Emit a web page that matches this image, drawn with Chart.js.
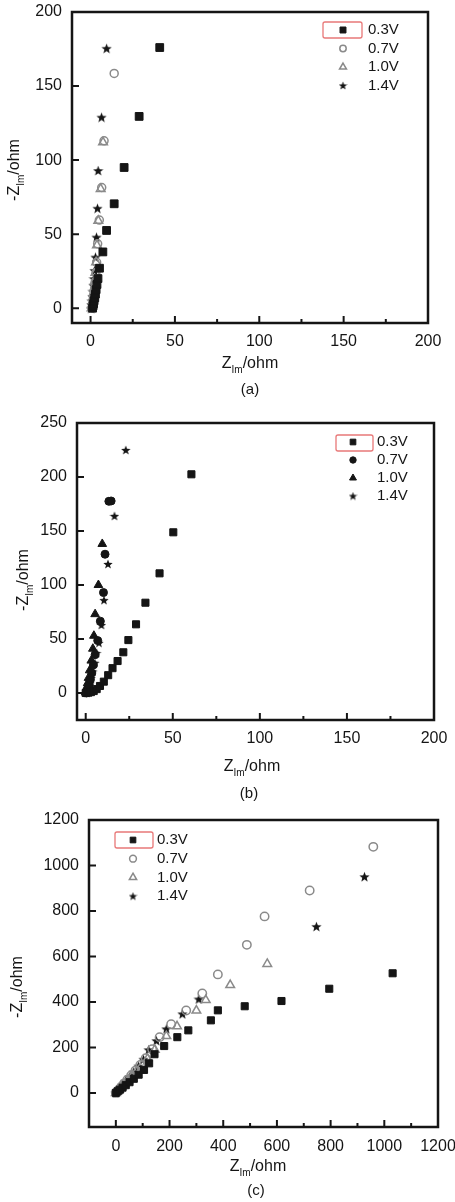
<!DOCTYPE html>
<html>
<head>
<meta charset="utf-8">
<script src="https://cdn.jsdelivr.net/npm/chart.js@4/dist/chart.umd.min.js"></script>
<style>
  html, body { margin: 0; padding: 0; background: #fff; }
  body { width: 455px; height: 1202px; position: relative; overflow: hidden; }
  canvas { position: absolute; left: 0; }
</style>
</head>
<body>
<canvas id="chartA" width="455" height="400" style="top:0px"></canvas>
<canvas id="chartB" width="455" height="410" style="top:400px"></canvas>
<canvas id="chartC" width="455" height="392" style="top:810px"></canvas>
<script>
const voltages = ['0.3V', '0.7V', '1.0V', '1.4V'];

// (a) Zre / -Zim pairs, ohm
const a03 = [[1.2,0],[1.5,1.5],[1.8,3],[2.1,5],[2.5,7],[2.9,9.5],[3.3,12.5],[3.8,16],[4.4,20],[5.3,27],[7.3,38],[9.5,52.5],[14,70.5],[19.9,95],[28.8,129.5],[41,176]];
const a07 = [[0.9,0],[1.1,2],[1.4,4.5],[1.7,7],[2,10],[2.4,13.5],[2.8,18],[3.2,24],[3.6,31],[4.2,43.5],[5.2,59.5],[6.6,81.5],[8,113],[14,158.5]];
const a10 = [[0.6,0],[0.8,2],[1.1,4.5],[1.4,7],[1.7,10],[2.1,13.5],[2.5,18],[2.9,24],[3.3,31],[3.8,42.5],[4.6,59],[6,80.5],[7.4,112]];
const a14 = [[0.3,0],[0.5,2.5],[0.8,5],[1.1,8],[1.4,11.5],[1.7,15.5],[2,20],[2.3,25.5],[2.9,34.5],[3.5,48],[4.1,67.5],[4.5,93],[6.5,129],[9.5,175.5]];
const aXTicks = [0, 50, 100, 150, 200];
const aYTicks = [0, 50, 100, 150, 200];

// (b)
const b03 = [[0,0],[1.5,0.3],[3,0.8],[4.6,1.8],[6.3,3.6],[8.2,6.5],[10.4,10.5],[12.9,16.5],[15.4,23],[18.3,29.6],[21.6,37.7],[24.5,49],[28.9,63.6],[34.3,83.6],[42.4,110.8],[50.3,148.8],[60.7,202.5]];
const b07 = [[0.4,0],[0.9,2],[1.4,4.5],[2,8],[2.7,12.5],[3.5,18.5],[4.4,26],[5.4,35.5],[6.9,48.5],[8.4,66.5],[10.2,93],[11.1,128.5],[13.3,177.5],[14.6,177.8]];
const b10 = [[0,0.5],[0.3,2.5],[0.7,5.5],[1.1,9],[1.6,14],[2.3,21],[3.2,30],[4.1,41],[4.7,53],[5.4,73],[7.3,100],[9.5,138]];
const b14 = [[0.6,0],[1.1,2],[1.7,5],[2.4,9],[3.1,14],[4,20],[5.2,28],[6.2,37],[7.6,46.5],[9,63],[10.5,86],[12.8,119.5],[16.5,164],[23,225]];
const bXTicks = [0, 50, 100, 150, 200];
const bYTicks = [0, 50, 100, 150, 200, 250];

// (c)
const c03 = [[0,0],[7,7],[15,14],[25,23],[37,34],[51,47],[67,62],[85,80],[105,101],[124,130],[144,170],[180,206],[229,245],[270,275],[354,319],[380,363],[480,381],[617,404],[795,458],[1031,526]];
const c07 = [[0,0],[5,7],[12,16],[21,28],[31,42],[43,58],[57,77],[73,98],[91,123],[111,152],[135,192],[163,245],[206,302],[262,362],[322,437],[380,521],[488,651],[554,776],[722,890],[959,1082]];
const c10 = [[0,0],[6,7],[13,16],[22,27],[33,40],[46,56],[61,75],[78,97],[97,122],[118,150],[145,190],[188,250],[228,293],[300,362],[335,408],[426,474],[564,567]];
const c14 = [[0,0],[6,9],[14,20],[24,34],[36,51],[50,70],[66,92],[84,118],[103,148],[122,190],[151,230],[188,282],[248,348],[309,413],[747,732],[926,951]];
const cXTicks = [0, 200, 400, 600, 800, 1000, 1200];
const cYTicks = [0, 200, 400, 600, 800, 1000, 1200];

const FONT = '"Liberation Sans", Arial, Helvetica, sans-serif';
const INK = '#151515';
const GREY = '#8a8a8a';
const NONE = 'rgba(0,0,0,0)';

function starCanvas(size, color) {
  const c = document.createElement('canvas');
  c.width = c.height = size;
  const g = c.getContext('2d');
  const R = size / 2, r = R * 0.42;
  g.translate(R, R + size * 0.05);
  g.beginPath();
  for (let i = 0; i < 10; i++) {
    const rad = i % 2 ? r : R * 0.98;
    const ang = -Math.PI / 2 + i * Math.PI / 5;
    g.lineTo(rad * Math.cos(ang), rad * Math.sin(ang));
  }
  g.closePath();
  g.fillStyle = color;
  g.fill();
  return c;
}

// axis title with subscript "Im"
function zimText(ctx, x, y, lead, rotate) {
  ctx.save();
  ctx.translate(x, y);
  if (rotate) ctx.rotate(-Math.PI / 2);
  const big = '16px ' + FONT, small = '10px ' + FONT;
  ctx.font = big;
  const w1 = ctx.measureText(lead).width, w3 = ctx.measureText('/ohm').width;
  ctx.font = small;
  const w2 = ctx.measureText('Im').width;
  let cx = -(w1 + w2 + w3) / 2;
  ctx.textBaseline = 'middle';
  ctx.textAlign = 'left';
  ctx.fillStyle = INK;
  ctx.font = big; ctx.fillText(lead, cx, 0); cx += w1;
  ctx.font = small; ctx.fillText('Im', cx, 6); cx += w2;
  ctx.font = big; ctx.fillText('/ohm', cx, 0);
  ctx.restore();
}

const framePlugin = {
  id: 'frame',
  afterDraw(chart, args, o) {
    const { ctx, chartArea: ca } = chart;
    const xs = chart.scales.x, ys = chart.scales.y;
    ctx.save();
    // box
    ctx.strokeStyle = INK;
    ctx.lineWidth = 2.5;
    ctx.strokeRect(ca.left, ca.top, ca.right - ca.left, ca.bottom - ca.top);
    // inward ticks
    ctx.lineWidth = 2;
    ctx.beginPath();
    xs.ticks.forEach((t, i) => {
      const px = xs.getPixelForValue(t.value);
      ctx.moveTo(px, ca.bottom); ctx.lineTo(px, ca.bottom - 7);
      if (i > 0) {
        const m = xs.getPixelForValue((t.value + xs.ticks[i - 1].value) / 2);
        ctx.moveTo(m, ca.bottom); ctx.lineTo(m, ca.bottom - 4);
      }
    });
    ys.ticks.forEach(t => {
      const py = ys.getPixelForValue(t.value);
      ctx.moveTo(ca.left, py); ctx.lineTo(ca.left + 7, py);
    });
    ctx.stroke();

    // legend
    const lg = o.legend;
    chart.data.datasets.forEach((ds, i) => {
      const st = o.marks[i];
      const yy = lg.y + i * lg.dy;
      ctx.fillStyle = ds.pointBackgroundColor;
      ctx.strokeStyle = ds.pointBorderColor;
      ctx.lineWidth = ds.pointBorderWidth;
      Chart.helpers.drawPoint(ctx, { pointStyle: st.style, radius: st.r, rotation: 0, borderWidth: ds.pointBorderWidth }, lg.x, yy);
      ctx.fillStyle = INK;
      ctx.font = '15px ' + FONT;
      ctx.textAlign = 'left';
      ctx.textBaseline = 'middle';
      ctx.fillText(ds.label, lg.tx, yy);
    });
    const b = lg.box;
    ctx.strokeStyle = '#e87878';
    ctx.lineWidth = 1.3;
    ctx.beginPath();
    if (ctx.roundRect) ctx.roundRect(b[0], b[1], b[2], b[3], 2); else ctx.rect(b[0], b[1], b[2], b[3]);
    ctx.stroke();

    // titles
    zimText(ctx, o.xTitle[0], o.xTitle[1], 'Z', false);
    zimText(ctx, o.yTitle[0], o.yTitle[1], '-Z', true);
    ctx.fillStyle = INK;
    ctx.font = '15px ' + FONT;
    ctx.textAlign = 'center';
    ctx.textBaseline = 'middle';
    ctx.fillText(o.caption, o.capPos[0], o.capPos[1]);
    ctx.restore();
  }
};

// keep tick labels from pushing the plot box around
const noPad = s => { s.paddingTop = 0; s.paddingBottom = 0; s.paddingLeft = 0; s.paddingRight = 0; };

function makePanel(id, p) {
  const H = document.getElementById(id).height;
  const datasets = p.series.map((d, i) => Object.assign({
    label: voltages[i],
    data: d,
    showLine: false
  }, p.styles[i]));
  return new Chart(document.getElementById(id), {
    type: 'scatter',
    data: { datasets },
    options: {
      responsive: false,
      animation: false,
      events: [],
      layout: { padding: { top: p.area.top, right: 455 - p.area.right, left: 0, bottom: 0 } },
      plugins: {
        legend: { display: false },
        tooltip: { enabled: false },
        frame: p.frame
      },
      scales: {
        x: {
          type: 'linear', min: p.xRange[0], max: p.xRange[1],
          grid: { display: false, drawTicks: false },
          border: { display: false },
          afterBuildTicks: s => { s.ticks = p.xTicks.map(v => ({ value: v })); },
          afterFit: s => { s.height = H - p.area.bottom; noPad(s); },
          ticks: { padding: p.xPad, color: INK, font: { family: FONT, size: 16 }, maxRotation: 0, callback: v => String(v) }
        },
        y: {
          type: 'linear', min: p.yRange[0], max: p.yRange[1],
          grid: { display: false, drawTicks: false },
          border: { display: false },
          afterBuildTicks: s => { s.ticks = p.yTicks.map(v => ({ value: v })); },
          afterFit: s => { s.width = p.area.left; noPad(s); },
          ticks: { padding: 10, color: INK, font: { family: FONT, size: 16 }, callback: v => String(v) }
        }
      }
    },
    plugins: [framePlugin]
  });
}

const sq = (r) => ({ pointStyle: 'rect', pointRadius: r, pointBackgroundColor: INK, pointBorderColor: INK, pointBorderWidth: 1 });

makePanel('chartA', {
  series: [a03, a07, a10, a14],
  styles: [
    sq(5.5),
    { pointStyle: 'circle', pointRadius: 4, pointBackgroundColor: NONE, pointBorderColor: GREY, pointBorderWidth: 1.5 },
    { pointStyle: 'triangle', pointRadius: 5, pointBackgroundColor: NONE, pointBorderColor: GREY, pointBorderWidth: 1.5 },
    { pointStyle: starCanvas(11, INK), pointBackgroundColor: INK, pointBorderColor: INK, pointBorderWidth: 0 }
  ],
  xRange: [-11, 200], yRange: [-10, 200],
  xTicks: aXTicks, yTicks: aYTicks, xPad: 9,
  area: { left: 72, top: 12, right: 428, bottom: 323 },
  frame: {
    legend: { x: 343, y: 30, dy: 18.5, tx: 368, box: [323, 22, 39, 16] },
    marks: [{ style: 'rect', r: 4.2 }, { style: 'circle', r: 3.2 }, { style: 'triangle', r: 4 }, { style: starCanvas(9, INK), r: 4 }],
    xTitle: [250, 364], yTitle: [15, 170], caption: '(a)', capPos: [250, 390]
  }
});

makePanel('chartB', {
  series: [b03, b07, b10, b14],
  styles: [
    sq(5),
    { pointStyle: 'circle', pointRadius: 4, pointBackgroundColor: INK, pointBorderColor: INK, pointBorderWidth: 1 },
    { pointStyle: 'triangle', pointRadius: 5, pointBackgroundColor: INK, pointBorderColor: INK, pointBorderWidth: 1 },
    { pointStyle: starCanvas(10, INK), pointBackgroundColor: INK, pointBorderColor: INK, pointBorderWidth: 0 }
  ],
  xRange: [-5, 200], yRange: [-25, 250],
  xTicks: bXTicks, yTicks: bYTicks, xPad: 9,
  area: { left: 77, top: 23, right: 434, bottom: 320 },
  frame: {
    legend: { x: 353, y: 42, dy: 18, tx: 377, box: [336, 35, 37, 16] },
    marks: [{ style: 'rect', r: 4 }, { style: 'circle', r: 3.2 }, { style: 'triangle', r: 4 }, { style: starCanvas(9, INK), r: 4 }],
    xTitle: [252, 367], yTitle: [24, 180], caption: '(b)', capPos: [249, 394]
  }
});

makePanel('chartC', {
  series: [c03, c07, c10, c14],
  styles: [
    sq(5),
    { pointStyle: 'circle', pointRadius: 4.2, pointBackgroundColor: NONE, pointBorderColor: GREY, pointBorderWidth: 1.5 },
    { pointStyle: 'triangle', pointRadius: 5, pointBackgroundColor: NONE, pointBorderColor: GREY, pointBorderWidth: 1.5 },
    { pointStyle: starCanvas(11, INK), pointBackgroundColor: INK, pointBorderColor: INK, pointBorderWidth: 0 }
  ],
  xRange: [-100, 1200], yRange: [-150, 1200],
  xTicks: cXTicks, yTicks: cYTicks, xPad: 10,
  area: { left: 89, top: 10, right: 438, bottom: 317 },
  frame: {
    legend: { x: 133, y: 30, dy: 18.7, tx: 157, box: [115, 22, 38, 16] },
    marks: [{ style: 'rect', r: 4 }, { style: 'circle', r: 3.4 }, { style: 'triangle', r: 4.2 }, { style: starCanvas(9, INK), r: 4 }],
    xTitle: [258, 357], yTitle: [18, 177], caption: '(c)', capPos: [256, 381]
  }
});
</script>
</body>
</html>
